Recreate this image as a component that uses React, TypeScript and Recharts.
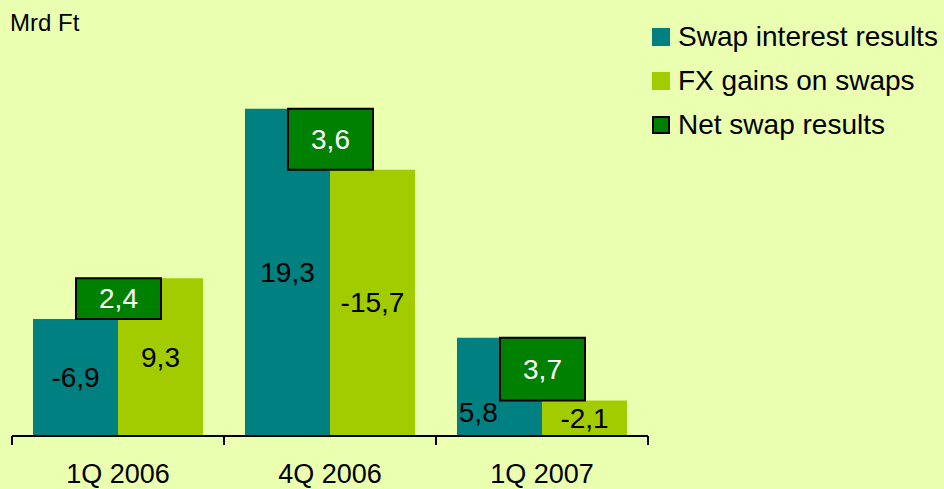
import React from 'react'
import { BarChart, Bar, XAxis, YAxis, LabelList, Legend } from 'recharts'

const categories = ['1Q 2006', '4Q 2006', '1Q 2007']
const swapInterest = [-6.9, 19.3, 5.8]
const fxGains = [9.3, -15.7, -2.1]
const netResults = [2.4, 3.6, 3.7]
const seriesNames = ['Swap interest results', 'FX gains on swaps', 'Net swap results']

const TEAL = '#008080'
const LIME = '#A2CC00'
const DARK = '#008000'
const BG = '#EAFFB0'
const FONT = '"Liberation Sans", Arial, sans-serif'
const seriesColors = [TEAL, LIME, DARK]

// bars show magnitudes, the net box floats between the two bar tops
const data = categories.map((name, i) => {
  const a = Math.abs(swapInterest[i])
  const b = Math.abs(fxGains[i])
  return { name, swap: a, fx: b, net: [Math.min(a, b), Math.max(a, b)] }
})

const fmt = (v: number) => v.toFixed(1).replace('.', ',')

const BAND = 636 / 3

const sideLabel = (signed: number[], side: 'left' | 'right') => (props: any) => {
  const { x, y, width, height, index } = props
  const bottom = y + height
  const ppu = height / Math.abs(signed[index])
  const [lo, hi] = data[index].net
  const boxTop = bottom - hi * ppu
  const boxBottom = bottom - lo * ppu
  const center = side === 'left' ? x + width : x
  let cx = x + width / 2
  let cy = y + height / 2
  if (cy > boxTop && cy < boxBottom) {
    // middle of the bar is hidden by the net box
    cx = side === 'left' ? (x + center - width / 2) / 2 : (center + width / 2 + x + width) / 2
    cy = (boxBottom + bottom) / 2 - 6
  }
  return (
    <text x={cx} y={cy} textAnchor="middle" dominantBaseline="central" fontSize={28} fontFamily={FONT} fill="#000">
      {fmt(signed[index])}
    </text>
  )
}

const netLabel = (props: any) => {
  const { x, y, width, height, index } = props
  return (
    <text x={x + width / 2} y={y + height / 2} textAnchor="middle" dominantBaseline="central" fontSize={28} fontFamily={FONT} fill="#fff">
      {fmt(netResults[index])}
    </text>
  )
}

const CategoryTick = (props: any) => {
  const { x, y, payload, index } = props
  const left = x - BAND / 2
  return (
    <g>
      <line x1={left} x2={left} y1={y} y2={y + 9} stroke="#000" strokeWidth={2} />
      {index === categories.length - 1 && (
        <line x1={x + BAND / 2} x2={x + BAND / 2} y1={y} y2={y + 9} stroke="#000" strokeWidth={2} />
      )}
      <text x={x} y={y + 47} textAnchor="middle" fontSize={27} fontFamily={FONT} fill="#000">
        {payload.value}
      </text>
    </g>
  )
}

const renderLegend = () => (
  <div style={{ fontFamily: FONT, fontSize: 28, color: '#000' }}>
    {seriesNames.map((n, i) => (
      <div key={n} style={{ display: 'flex', alignItems: 'center', height: 44, whiteSpace: 'nowrap' }}>
        <span
          style={{
            display: 'inline-block',
            width: 18,
            height: 18,
            marginRight: 8,
            background: seriesColors[i],
            boxSizing: 'border-box',
            border: i === 2 ? '2px solid #000' : 'none',
          }}
        />
        {n}
      </div>
    ))}
  </div>
)

export default function App() {
  return (
    <div style={{ position: 'absolute', left: 0, top: 0, width: 944, height: 489, background: BG }}>
      <div style={{ position: 'absolute', left: 10, top: 11, fontFamily: FONT, fontSize: 24, lineHeight: '24px' }}>
        Mrd Ft
      </div>
      <BarChart
        width={944}
        height={489}
        data={data}
        margin={{ top: 12, left: 12, right: 296, bottom: 0 }}
        barGap={0}
      >
        <XAxis
          xAxisId="main"
          dataKey="name"
          height={53}
          interval={0}
          tickSize={0}
          tickMargin={0}
          tickLine={false}
          axisLine={{ stroke: '#000', strokeWidth: 2 }}
          tick={<CategoryTick />}
        />
        <XAxis xAxisId="net" dataKey="name" hide />
        <YAxis hide domain={[0, 25]} />
        <Legend
          layout="vertical"
          align="center"
          verticalAlign="middle"
          wrapperStyle={{ left: 652, top: 15, width: 'auto' }}
          content={renderLegend}
        />
        <Bar xAxisId="main" dataKey="swap" name={seriesNames[0]} fill={TEAL} barSize={85} isAnimationActive={false}>
          <LabelList dataKey="swap" content={sideLabel(swapInterest, 'left')} />
        </Bar>
        <Bar xAxisId="main" dataKey="fx" name={seriesNames[1]} fill={LIME} barSize={85} isAnimationActive={false}>
          <LabelList dataKey="fx" content={sideLabel(fxGains, 'right')} />
        </Bar>
        <Bar
          xAxisId="net"
          dataKey="net"
          name={seriesNames[2]}
          fill={DARK}
          stroke="#000"
          strokeWidth={2}
          barSize={85}
          isAnimationActive={false}
        >
          <LabelList dataKey="net" content={netLabel} />
        </Bar>
      </BarChart>
    </div>
  )
}
